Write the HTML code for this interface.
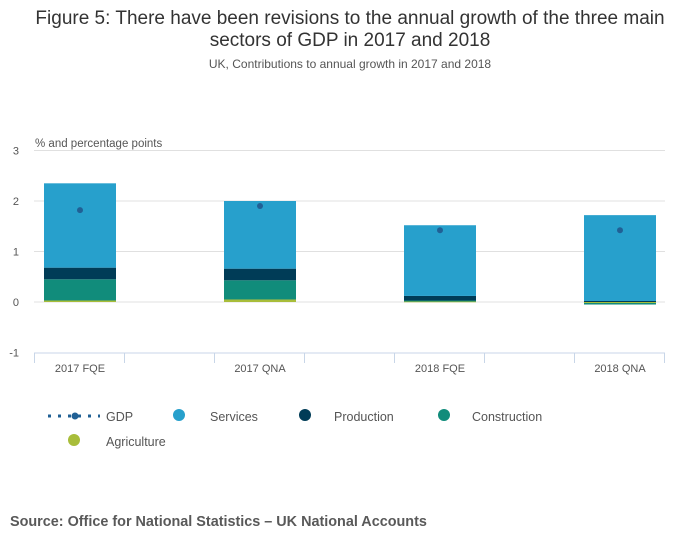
<!DOCTYPE html>
<html><head><meta charset="utf-8"><style>
body{margin:0;background:#fff;font-family:"Liberation Sans",sans-serif;}
#wrap{position:relative;width:700px;height:549px;overflow:hidden;}
</style></head><body>
<div id="wrap">
<svg id="chart" width="700" height="549">
<text x="350" y="24" text-anchor="middle" font-size="19" fill="#333">Figure 5: There have been revisions to the annual growth of the three main</text>
<text x="350" y="46" text-anchor="middle" font-size="19" fill="#333">sectors of GDP in 2017 and 2018</text>
<text x="350" y="68" text-anchor="middle" font-size="12" fill="#555">UK, Contributions to annual growth in 2017 and 2018</text>
<text x="35" y="147" font-size="11.5" fill="#555">% and percentage points</text>
<g id="grid"></g><g id="bars"></g><g id="dots"></g><g id="xaxis"></g>
<g id="legend" font-size="12.5" fill="#555">
 <g><line x1="48" y1="416" x2="100" y2="416" stroke="#206095" stroke-width="3" stroke-dasharray="3,7"/><circle cx="75" cy="416" r="3.5" fill="#206095"/><text x="106" y="421">GDP</text></g>
 <g><circle cx="179" cy="415" r="6" fill="#27a0cc"/><text x="210" y="421">Services</text></g>
 <g><circle cx="305" cy="415" r="6" fill="#003c57"/><text x="334" y="421">Production</text></g>
 <g><circle cx="444" cy="415" r="6" fill="#118c7b"/><text x="472" y="421">Construction</text></g>
 <g><circle cx="74" cy="440" r="6" fill="#a8bd3a"/><text x="106" y="446">Agriculture</text></g>
</g>
<text x="10" y="526" font-size="14.4" font-weight="bold" fill="#595959">Source: Office for National Statistics – UK National Accounts</text>
</svg>
</div>
<script>
const categories=["2017 FQE","2017 QNA","2018 FQE","2018 QNA"];
const agriculture=[0.03,0.05,0.01,-0.02];
const construction=[0.42,0.38,0.02,-0.03];
const production=[0.23,0.23,0.09,0.02];
const services=[1.67,1.34,1.40,1.70];
const gdp=[1.82,1.9,1.42,1.42];
const yTicks=[3,2,1,0,-1];
const NS="http://www.w3.org/2000/svg";
function y(v){return 302-v*50.5;}
function xc(i){return 80+i*180;}
function mk(tag,attrs,parent){const e=document.createElementNS(NS,tag);for(const k in attrs)e.setAttribute(k,attrs[k]);document.getElementById(parent).appendChild(e);return e;}
yTicks.forEach(t=>{
 if(t!==-1){const g=mk('line',{x1:34,x2:665,y1:y(t),y2:y(t),stroke:'#e0e0e0','stroke-width':1},'grid');
 
 }
 const l=mk('text',{x:19,y:y(t)+4,'text-anchor':'end','font-size':11,fill:'#555'},'grid');l.textContent=t;
 
 
});
const series=[[agriculture,'#a8bd3a','agriculture'],[construction,'#118c7b','construction'],[production,'#003c57','production'],[services,'#27a0cc','services']];
categories.forEach((c,i)=>{
 let pos=0,neg=0;
 series.forEach(([arr,col,nm])=>{
  const v=arr[i];let a,b;
  if(v>=0){a=pos;b=pos+v;pos=b;}else{a=neg;b=neg+v;neg=b;}
  const top=y(Math.max(a,b)),h=Math.abs(y(a)-y(b));
  const r=mk('rect',{x:xc(i)-36,y:top,width:72,height:Math.max(h,0.8),fill:col},'bars');
  
  
 });
 const d=mk('circle',{cx:xc(i),cy:y(gdp[i]),r:3,fill:'#206095'},'dots');
 
 
 const t=mk('text',{x:xc(i),y:372,'text-anchor':'middle','font-size':11,fill:'#555'},'xaxis');t.textContent=c;
 
 
});
const ax=mk('line',{x1:34,x2:665,y1:353,y2:353,stroke:'#c8d6e8'},'xaxis');


for(let k=0;k<8;k++){const tk=mk('line',{x1:34.5+k*90,x2:34.5+k*90,y1:353,y2:363,stroke:'#c8d6e8'},'xaxis');
 
 }
</script>
</body></html>
